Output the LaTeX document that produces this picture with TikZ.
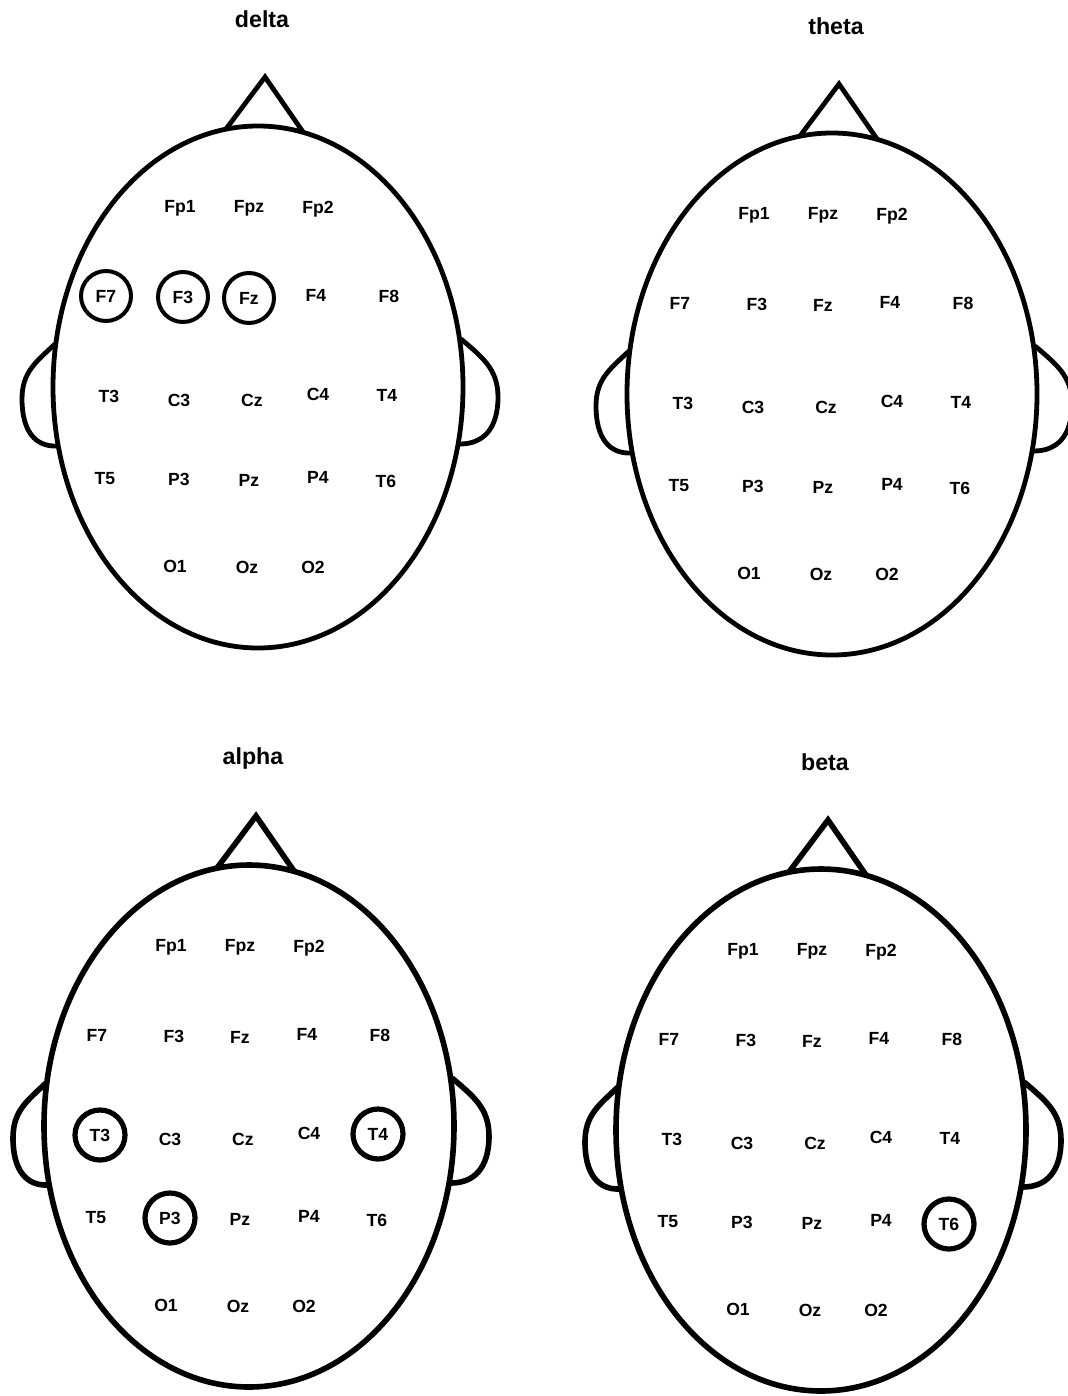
\documentclass[tikz,border=0pt]{standalone}
\usepackage{fontspec}
\setmainfont{Liberation Sans}

% 10-20 electrode layout, offsets from the head centre (px, y down)
\newcommand{\montage}{Fp1/-78/-179, Fpz/-9/-179, Fp2/60/-178,
  F7/-152/-91, F3/-75/-90, Fz/-9/-89, F4/58/-92, F8/131/-91,
  T3/-149/9, C3/-79/13, Cz/-6/13, C4/60/7, T4/129/8,
  T5/-153/92, P3/-79/92, Pz/-9/93, P4/60/90, T6/128/94,
  O1/-83/179, Oz/-11/180, O2/55/180}

% [scope options]{name}{centre}{band}
\newcommand{\eeghead}[4][]{%
  \begin{scope}[shift={#3}, #1]
    \draw[head] (0,0) ellipse[x radius=205, y radius=261];
    \draw[head] (-203,-43) .. controls (-222,-25) and (-236,-15) .. (-236,12)
                .. controls (-236,45) and (-222,60) .. (-201,59);
    \draw[head] (203,-48) .. controls (224,-30) and (240,-18) .. (240,10)
                .. controls (240,42) and (225,57) .. (202,57);
    \draw[head] (-32,-258) -- (7,-310) -- (45,-255);
    \node[band] (#2) at (4,-368) {#4};
    \foreach \lab/\ex/\ey in \montage
      \node[elec] (#2-\lab) at (\ex,\ey) {\lab};
  \end{scope}}

\begin{document}
\begin{tikzpicture}[
    x=0.5pt, y=-0.5pt,
    head/.style={line width=2.4pt},
    band/.style={font=\fontsize{11.6}{13}\selectfont\bfseries},
    elec/.style={font=\fontsize{8.8}{10}\selectfont\bfseries, inner sep=0pt},
    ring/.style={circle, draw, line width=2pt, minimum size=25pt, inner sep=0pt},
]
\useasboundingbox (0,0) rectangle (1067,1396);

\eeghead{delta}{(258,387)}{delta}
\eeghead{theta}{(832,394)}{theta}
\eeghead[head/.append style={line width=2.8pt}]{alpha}{(249,1126)}{alpha}
\eeghead[head/.append style={line width=2.8pt}]{beta}{(821,1130)}{beta}

% significant electrodes
\node[ring] (delta-F7-ring) at (delta-F7) {};
\node[ring] (delta-F3-ring) at (delta-F3) {};
\node[ring] (delta-Fz-ring) at (delta-Fz) {};
\node[ring, line width=2.6pt] (alpha-T3-ring) at (alpha-T3) {};
\node[ring, line width=2.6pt] (alpha-T4-ring) at (alpha-T4) {};
\node[ring, line width=2.6pt] (alpha-P3-ring) at (alpha-P3) {};
\node[ring, line width=2.6pt] (beta-T6-ring) at (beta-T6) {};

\end{tikzpicture}
\end{document}
